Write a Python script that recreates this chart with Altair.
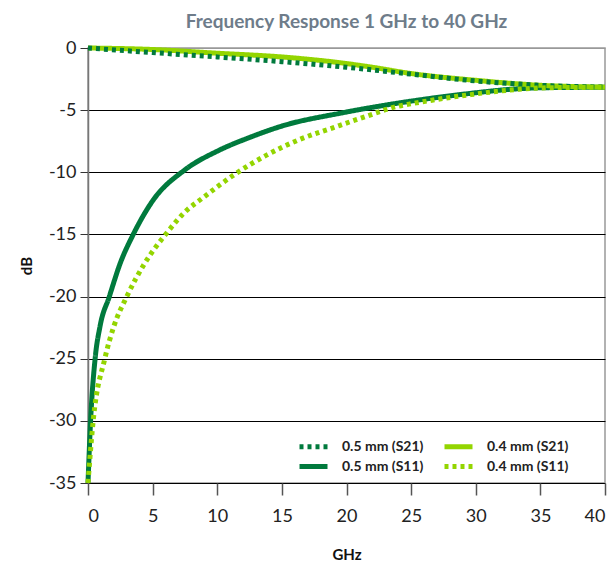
import altair as alt
import pandas as pd

# Data
s21_05_x = [0, 5, 10, 15, 20, 25, 30, 35, 40]
s21_05_y = [0, -0.37, -0.72, -1.1, -1.55, -2.1, -2.65, -3.0, -3.15]

s21_04_x = [0, 5, 10, 15, 20, 22, 25, 30, 35, 40]
s21_04_y = [0, -0.12, -0.42, -0.72, -1.25, -1.55, -2.05, -2.6, -3.0, -3.15]

s11_05_x = [0, 0.2, 0.55, 0.93, 1.65, 2.5, 3.5, 5.0, 7.5, 10, 12.5, 15.1, 19.5, 24.2, 29.6, 33, 35.6, 40]
s11_05_y = [-35, -30, -25, -22.4, -20, -17.3, -15, -12.3, -9.8, -8.3, -7.2, -6.25, -5.25, -4.4, -3.65, -3.3, -3.19, -3.16]

s11_04_x = [0, 0.4, 1.3, 2.0, 3.0, 4.4, 6.0, 7.7, 8.7, 11.3, 13.85, 16.4, 19, 21.6, 23.9, 25.2, 29.6, 33, 35.6, 40]
s11_04_y = [-35, -30, -25, -22.4, -20, -17.3, -15, -13, -12.2, -10.2, -8.6, -7.35, -6.4, -5.47, -4.7, -4.45, -3.75, -3.35, -3.2, -3.16]

# legend is filled column by column
series_names = ["0.5 mm (S21)", "0.5 mm (S11)", "0.4 mm (S21)", "0.4 mm (S11)"]
DARK = "#007a3d"
LIGHT = "#93d500"
colors = [DARK, DARK, LIGHT, LIGHT]
dashes = [[4, 4], [1, 0], [1, 0], [4, 4]]

rows = []
for name, xs, ys in [
    ("0.5 mm (S21)", s21_05_x, s21_05_y),
    ("0.4 mm (S21)", s21_04_x, s21_04_y),
    ("0.5 mm (S11)", s11_05_x, s11_05_y),
    ("0.4 mm (S11)", s11_04_x, s11_04_y),
]:
    for x, y in zip(xs, ys):
        rows.append({"series": name, "GHz": x, "dB": y})
df = pd.DataFrame(rows)

FONT = "Lato"

x_enc = alt.X(
    "GHz:Q",
    scale=alt.Scale(domain=[0, 40], nice=False),
    axis=alt.Axis(
        values=[0, 5, 10, 15, 20, 25, 30, 35, 40],
        title="GHz",
        grid=False,
        domain=False,
        tickSize=12,
        tickColor="#555",
        tickWidth=1.5,
        labelFontSize=18,
        labelFont=FONT,
        labelColor="#222",
        labelPadding=12,
        titleFont=FONT,
        titleFontSize=15,
        titleFontWeight="bold",
        titleColor="#111",
        titlePadding=22,
    ),
)
y_enc = alt.Y(
    "dB:Q",
    scale=alt.Scale(domain=[-35, 0], nice=False),
    axis=alt.Axis(
        values=[0, -5, -10, -15, -20, -25, -30, -35],
        labelExpr="'' + datum.value",
        title="dB",
        grid=True,
        gridColor=alt.condition("datum.value == 0", alt.value("#999999"), alt.value("#000000")),
        gridWidth=1.2,
        domain=True,
        domainColor="#777",
        domainWidth=1.5,
        tickSize=8,
        tickColor="#333",
        labelFontSize=18,
        labelFont=FONT,
        labelColor="#222",
        labelPadding=4,
        titleFont=FONT,
        titleFontSize=15,
        titleFontWeight="bold",
        titleColor="#111",
        titlePadding=14,
    ),
)
legend_cfg = dict(
    title=None,
    orient="none",
    legendX=209,
    legendY=389,
    columns=2,
    symbolType="M-1,0H3",
    symbolSize=196,
    symbolStrokeWidth=5,
    labelFont=FONT,
    labelFontSize=14,
    labelFontWeight="bold",
    labelColor="#222",
    labelOffset=26,
    columnPadding=10,
    rowPadding=-6,
)
color_enc = alt.Color(
    "series:N",
    scale=alt.Scale(domain=series_names, range=colors),
    legend=alt.Legend(**legend_cfg),
)
dash_enc = alt.StrokeDash(
    "series:N",
    scale=alt.Scale(domain=series_names, range=dashes),
    legend=alt.Legend(**legend_cfg),
)

base = alt.Chart(df).encode(x=x_enc, y=y_enc, color=color_enc, strokeDash=dash_enc)

draw_order = ["0.5 mm (S11)", "0.4 mm (S21)", "0.5 mm (S21)", "0.4 mm (S11)"]
layers = [
    base.transform_filter(alt.datum.series == name).mark_line(
        strokeWidth=5, interpolate="monotone"
    )
    for name in draw_order
]

chart = (
    alt.layer(*layers)
    .properties(
        width=517,
        height=435,
        autosize=alt.AutoSizeParams(type="none"),
        padding={"left": 80, "top": 40, "right": 2, "bottom": 78},
        title=alt.TitleParams(
            "Frequency Response 1 GHz to 40 GHz",
            font=FONT,
            fontSize=19,
            fontWeight="bold",
            color="#6e7c8a",
            anchor="middle",
            offset=6,
        ),
    )
    .configure_view(stroke="#999999", strokeWidth=1.5)
)

chart.save("out.html", embed_options={"renderer": "svg", "actions": False})
